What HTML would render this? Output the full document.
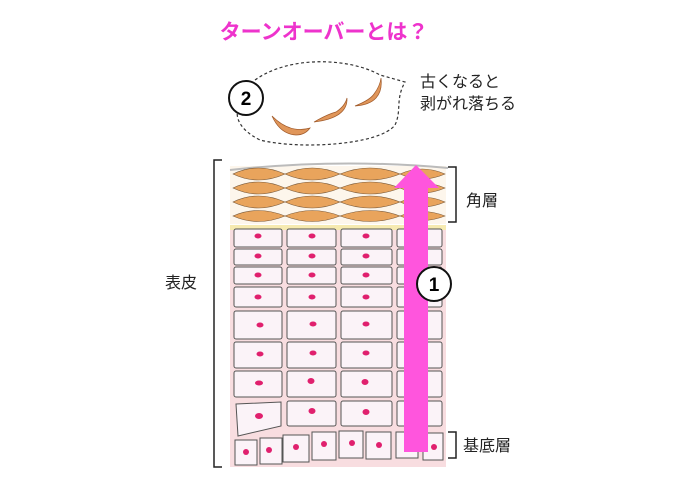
<!DOCTYPE html>
<html><head><meta charset="utf-8"><style>
body{margin:0;background:#fff;}
svg{display:block;font-family:"Liberation Sans","Noto Sans CJK JP",sans-serif;}
</style></head><body>
<svg width="700" height="482" viewBox="0 0 700 482">
<text x="324" y="39" text-anchor="middle" font-size="21" font-weight="bold" fill="#ee33cc">ターンオーバーとは？</text>
<path d="M255,80 C290,55 350,58 380,75 L405,82 C395,100 402,110 395,125 C380,145 300,150 260,140 C240,130 235,118 238,108" fill="none" stroke="#333" stroke-width="1.2" stroke-dasharray="3,2.5"/>
<circle cx="246" cy="98" r="17" fill="#fff" stroke="#111" stroke-width="2"/>
<text x="246" y="105" text-anchor="middle" font-size="19" font-weight="bold">2</text>
<path d="M272,116 Q280,134 296,135 Q305,135 310,128 Q290,134 272,116Z" fill="#e0965a" stroke="#a05a2a" stroke-width="0.7"/>
<path d="M314,122 Q328,114 336,112 Q345,106 347,98 Q348,118 314,122Z" fill="#e0965a" stroke="#a05a2a" stroke-width="0.7"/>
<path d="M355,106 Q370,100 374,94 Q380,86 381,78 Q384,104 355,106Z" fill="#e0965a" stroke="#a05a2a" stroke-width="0.7"/>
<text x="420" y="87" font-size="16" fill="#222">古くなると</text>
<text x="420" y="109" font-size="16" fill="#222">剥がれ落ちる</text>
<rect x="230" y="225" width="216" height="242" fill="#f8dde0"/>
<rect x="230" y="225" width="216" height="5" fill="#f6eab0"/>
<rect x="230" y="166" width="216" height="58" fill="#fdf6ec"/>
<path d="M230,170 Q340,158 448,168" fill="none" stroke="#bbb" stroke-width="2"/>
<g fill="#e9a45c" stroke="#7a5a3a" stroke-width="0.6">
<path d="M233,174 Q258,162 285,174 Q258,186 233,174Z M285,174 Q312,162 340,174 Q312,186 285,174Z M340,174 Q370,162 400,174 Q370,186 340,174Z M400,174 Q422,164 445,174 Q422,184 400,174Z"/>
<path d="M233,188 Q258,176 285,188 Q258,200 233,188Z M285,188 Q312,176 340,188 Q312,200 285,188Z M340,188 Q370,176 400,188 Q370,200 340,188Z M400,188 Q422,178 445,188 Q422,198 400,188Z"/>
<path d="M233,202 Q258,190 285,202 Q258,214 233,202Z M285,202 Q312,190 340,202 Q312,214 285,202Z M340,202 Q370,190 400,202 Q370,214 340,202Z M400,202 Q422,192 445,202 Q422,212 400,202Z"/>
<path d="M233,216 Q258,205 285,216 Q258,227 233,216Z M285,216 Q312,205 340,216 Q312,227 285,216Z M340,216 Q370,205 400,216 Q370,227 340,216Z M400,216 Q422,207 445,216 Q422,225 400,216Z"/>
</g>
<g fill="#fbf3f8" stroke="#555" stroke-width="1">
<rect x="234" y="229" width="48" height="18" rx="2"/><rect x="287" y="229" width="49" height="18" rx="2"/><rect x="341" y="229" width="51" height="18" rx="2"/><rect x="397" y="229" width="45" height="18" rx="2"/>
<rect x="234" y="249" width="48" height="16" rx="2"/><rect x="287" y="249" width="49" height="16" rx="2"/><rect x="341" y="249" width="51" height="16" rx="2"/><rect x="397" y="249" width="45" height="16" rx="2"/>
<rect x="234" y="267" width="48" height="17" rx="2"/><rect x="287" y="267" width="49" height="17" rx="2"/><rect x="341" y="267" width="51" height="17" rx="2"/><rect x="397" y="267" width="45" height="17" rx="2"/>
<rect x="234" y="287" width="48" height="20" rx="2"/><rect x="287" y="287" width="49" height="20" rx="2"/><rect x="341" y="287" width="51" height="20" rx="2"/><rect x="397" y="287" width="45" height="20" rx="2"/>
<rect x="234" y="311" width="48" height="28" rx="2"/><rect x="287" y="311" width="49" height="28" rx="2"/><rect x="341" y="311" width="51" height="28" rx="2"/><rect x="397" y="311" width="45" height="28" rx="2"/>
<rect x="234" y="342" width="48" height="26" rx="2"/><rect x="287" y="342" width="49" height="26" rx="2"/><rect x="341" y="342" width="51" height="26" rx="2"/><rect x="397" y="342" width="45" height="26" rx="2"/>
<rect x="234" y="371" width="48" height="26" rx="2"/><rect x="287" y="371" width="49" height="26" rx="2"/><rect x="341" y="371" width="51" height="26" rx="2"/><rect x="397" y="371" width="45" height="26" rx="2"/>
<path d="M236,404 L281,402 L281,426 L238,436Z"/><rect x="287" y="401" width="49" height="25" rx="2"/><rect x="341" y="401" width="51" height="25" rx="2"/><rect x="397" y="401" width="45" height="25" rx="2"/>
<rect x="235" y="440" width="22" height="25"/><rect x="260" y="438" width="22" height="26"/><rect x="283" y="435" width="26" height="27"/><rect x="312" y="432" width="24" height="28"/><rect x="339" y="431" width="24" height="27"/><rect x="366" y="432" width="25" height="27"/><rect x="396" y="432" width="22" height="26"/><rect x="423" y="433" width="20" height="27"/>
</g>
<g fill="#e0206e">
<ellipse cx="258" cy="236" rx="3.5" ry="2.5"/><ellipse cx="312" cy="236" rx="3.5" ry="2.5"/><ellipse cx="366" cy="236" rx="3.5" ry="2.5"/>
<ellipse cx="258" cy="256" rx="3.5" ry="2.5"/><ellipse cx="312" cy="256" rx="3.5" ry="2.5"/><ellipse cx="366" cy="256" rx="3.5" ry="2.5"/>
<ellipse cx="258" cy="275" rx="3.5" ry="2.5"/><ellipse cx="312" cy="275" rx="3.5" ry="2.5"/><ellipse cx="366" cy="275" rx="3.5" ry="2.5"/>
<ellipse cx="258" cy="297" rx="3.5" ry="2.5"/><ellipse cx="312" cy="297" rx="3.5" ry="2.5"/><ellipse cx="366" cy="297" rx="3.5" ry="2.5"/>
<ellipse cx="260" cy="325" rx="3.5" ry="2.5"/><ellipse cx="313" cy="324" rx="3.5" ry="2.5"/><ellipse cx="366" cy="324" rx="3.5" ry="2.5"/>
<ellipse cx="260" cy="354" rx="3.5" ry="2.5"/><ellipse cx="313" cy="353" rx="3.5" ry="2.5"/><ellipse cx="366" cy="353" rx="3.5" ry="2.5"/>
<ellipse cx="259" cy="383" rx="4" ry="2.5"/><ellipse cx="311" cy="381" rx="3.5" ry="3"/><ellipse cx="365" cy="382" rx="3.5" ry="3"/>
<ellipse cx="259" cy="416" rx="4" ry="3"/><ellipse cx="312" cy="411" rx="3.5" ry="3"/><ellipse cx="366" cy="412" rx="3.5" ry="3"/>
<circle cx="246" cy="452" r="3"/><circle cx="269" cy="450" r="3"/><circle cx="296" cy="447" r="3"/><circle cx="324" cy="444" r="3"/><circle cx="352" cy="443" r="3"/><circle cx="379" cy="445" r="3"/><circle cx="434" cy="447" r="3"/>
</g>
<rect x="404" y="185" width="24" height="267" fill="#ff55dd"/>
<path d="M394,188 L416,165 L439,188Z" fill="#ff55dd"/>
<circle cx="434" cy="284" r="17" fill="#fff" stroke="#111" stroke-width="2"/>
<text x="434" y="291" text-anchor="middle" font-size="19" font-weight="bold">1</text>
<path d="M222,160 L214,160 L214,467 L222,467" fill="none" stroke="#222" stroke-width="1.5"/>
<text x="165" y="288" font-size="16" fill="#222">表皮</text>
<path d="M448,167 L456,167 L456,222 L448,222" fill="none" stroke="#222" stroke-width="1.5"/>
<text x="466" y="206" font-size="16" fill="#222">角層</text>
<path d="M448,432 L456,432 L456,458 L448,458" fill="none" stroke="#222" stroke-width="1.5"/>
<text x="463" y="451" font-size="16" fill="#222">基底層</text>
</svg>
</body></html>
